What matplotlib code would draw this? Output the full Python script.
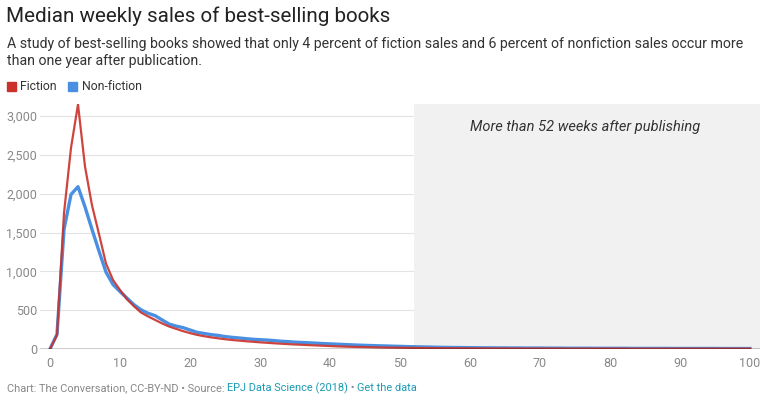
import matplotlib
matplotlib.use("Agg")
import matplotlib.pyplot as plt

plt.rcParams['font.family'] = ['Roboto', 'DejaVu Sans']

weeks = list(range(0, 101))
fiction = [0, 180, 1750, 2590, 3150, 2350, 1850, 1480, 1100, 890,
           760, 640, 550, 470, 420, 375, 330, 290, 260, 230,
           205, 182, 165, 150, 138, 126, 116, 108, 100, 93,
           86, 80, 74, 68, 63, 58, 54, 50, 46, 42,
           38, 34, 31, 28, 26, 24, 22, 20, 18, 17,
           16, 15, 14, 13, 12, 11, 10, 10, 9, 9,
           8, 8, 8, 7, 7, 7, 7, 6, 6, 6,
           6, 6, 6, 5, 5, 5, 5, 5, 5, 5,
           5, 5, 5, 4, 4, 4, 4, 4, 4, 4,
           4, 4, 4, 4, 4, 4, 4, 4, 4, 4, 4]
nonfiction = [0, 190, 1540, 1990, 2090, 1830, 1540, 1260, 990, 830,
              740, 655, 570, 505, 460, 430, 375, 322, 295, 275,
              245, 215, 200, 185, 175, 160, 150, 142, 133, 125,
              120, 115, 108, 100, 95, 88, 84, 80, 75, 70,
              66, 62, 58, 54, 50, 47, 44, 41, 39, 36,
              34, 31, 29, 27, 25, 23, 21, 20, 19, 18,
              17, 16, 15, 15, 14, 14, 13, 13, 12, 12,
              12, 11, 11, 11, 10, 10, 10, 10, 9, 9,
              9, 9, 9, 8, 8, 8, 8, 8, 8, 7,
              7, 7, 7, 7, 7, 7, 6, 6, 6, 6, 6]
x_ticks = [0, 10, 20, 30, 40, 50, 60, 70, 80, 90, 100]
y_ticks = [0, 500, 1000, 1500, 2000, 2500, 3000]
y_labels = ["0", "500", "1,000", "1,500", "2,000", "2,500", "3,000"]
shade_start = 52

RED = '#c9312a'
BLUE = '#4a90e2'
W, H = 769, 399

fig = plt.figure(figsize=(W / 100, H / 100), dpi=100)
fig.patch.set_facecolor('white')

def fx(px):
    return px / W

def fy(py):
    return 1 - py / H

ax = fig.add_axes([fx(40), fy(349), fx(720), (349 - 104) / H])
xmin, xmax = -10 / 7, 710 / 7
ax.set_xlim(xmin, xmax)
ax.set_ylim(0, 3155)

for yt in y_ticks[1:]:
    ax.axhline(yt, color='#e3e3e3', lw=0.8, zorder=0.5)
ax.axvspan(shade_start, xmax, color='#f1f1f1', zorder=1, lw=0)
ax.axhline(0, color='black', lw=1.0, zorder=4)

ax.plot(weeks, nonfiction, color=BLUE, lw=2.4, zorder=3, solid_joinstyle='round')
ax.plot(weeks, fiction, color=RED, lw=1.6, zorder=3.5, alpha=0.9, solid_joinstyle='round')

ax.text(0.5 * (shade_start + xmax) - 0.3, 2860, "More than 52 weeks after publishing",
        ha='center', va='center', fontsize=10.5, style='italic', color='#333333', zorder=5)

for s in ax.spines.values():
    s.set_visible(False)
ax.set_xticks(x_ticks)
ax.set_yticks(y_ticks)
ax.set_yticklabels(y_labels)
ax.tick_params(axis='both', length=0, labelsize=9, labelcolor='#888888')
ax.tick_params(axis='y', pad=2)
ax.tick_params(axis='x', pad=6)

fig.text(fx(6), fy(16), "Median weekly sales of best-selling books", fontsize=14.9,
         color='#222222', va='center', ha='left')
fig.text(fx(7), fy(44), "A study of best-selling books showed that only 4 percent of fiction sales and 6 percent of nonfiction sales occur more",
         fontsize=10.2, color='#333333', va='center', ha='left')
fig.text(fx(7), fy(61), "than one year after publication.",
         fontsize=10.2, color='#333333', va='center', ha='left')

# legend
fig.patches.append(plt.Rectangle((fx(7), fy(91)), fx(9), 9 / H, color=RED, transform=fig.transFigure))
fig.text(fx(20), fy(86.5), "Fiction", fontsize=8.8, color='#333333', va='center', ha='left')
fig.patches.append(plt.Rectangle((fx(68), fy(91)), fx(9), 9 / H, color=BLUE, transform=fig.transFigure))
fig.text(fx(82), fy(86.5), "Non-fiction", fontsize=8.8, color='#333333', va='center', ha='left')

# footer
parts = [("Chart: The Conversation, CC-BY-ND \u2022 Source: ", '#888888'),
         ("EPJ Data Science (2018)", '#1a9bb3'),
         (" \u2022 ", '#888888'),
         ("Get the data", '#1a9bb3')]
fig.canvas.draw()
renderer = fig.canvas.get_renderer()
xpos = 7
for txt, col in parts:
    t = fig.text(fx(xpos), fy(388), txt, fontsize=7.9, color=col, va='center', ha='left')
    bb = t.get_window_extent(renderer=renderer)
    xpos += bb.width

fig.savefig('out.png', dpi=100, facecolor='white')
